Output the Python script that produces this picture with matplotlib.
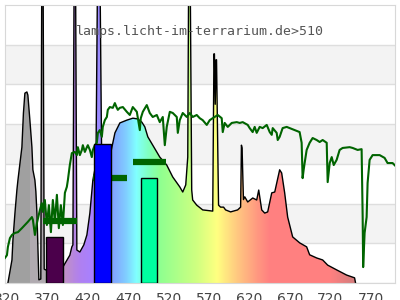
import numpy as np
import matplotlib.pyplot as plt
from matplotlib.colors import to_rgb
from matplotlib.patches import Polygon

# lamp spectrum, wavelength in nm and relative intensity
lamp_nm = [321.1, 326.1, 327.3, 329.8, 332.2, 333.5, 338.4, 340.3, 342.1, 344.6,
           345.8, 348.3, 350.8, 352.0, 354.5, 355.7, 357.0, 358.2, 359.4, 361.8,
           363.2, 364.4, 366.0, 367.5, 372.0, 378.0, 384.0, 389.1, 392.8, 397.7,
           400.2, 401.5, 403.3, 404.5, 406.4, 410.1, 415.0, 418.8, 422.5, 426.2,
           430.0, 432.5, 434.5, 437.0, 442.0, 447.2, 453.5, 459.6, 468.2, 475.7,
           481.8, 486.8, 490.5, 494.2, 500.3, 509.0, 517.6, 525.0, 533.7, 537.4,
           541.1, 543.6, 545.0, 546.2, 548.5, 549.7, 554.7, 562.1, 574.5, 576.0,
           576.6, 577.6, 578.6, 579.2, 581.7, 584.2, 587.9, 590.4, 596.6, 605.3,
           609.0, 610.0, 610.8, 612.5, 614.1, 617.8, 624.0, 628.9, 631.4, 635.1,
           638.8, 642.5, 647.5, 651.2, 657.3, 659.8, 663.5, 667.2, 673.4, 682.1,
           690.7, 694.4, 703.1, 710.5, 716.7, 727.8, 740.1, 750.0, 751.2]
lamp_val = [0, 58, 108, 176, 234, 259, 342, 428, 478, 481,
            473, 410, 342, 285, 259, 230, 176, 91, 8, 10,
            900, 900, 35, 33, 35, 36, 38, 40, 53, 70,
            91, 96, 900, 900, 83, 78, 96, 121, 176, 259,
            300, 900, 900, 330, 320, 317, 378, 403, 410, 415,
            413, 405, 393, 368, 347, 317, 297, 267, 242, 229,
            247, 317, 900, 900, 234, 209, 196, 184, 181, 577,
            577, 450, 562, 562, 196, 191, 191, 184, 179, 184,
            191, 347, 340, 210, 217, 204, 214, 209, 234, 184,
            176, 179, 227, 229, 285, 277, 227, 166, 116, 101,
            91, 71, 63, 58, 45, 33, 20, 13, 0]

# daylight reference
sun_nm = [317.4, 319.9, 321.1, 323.6, 326.1, 329.8, 333.5, 338.4, 342.1, 345.8,
          350.8, 352.0, 354.5, 357.0, 360.7, 363.1, 364.4, 366.8, 369.3, 371.8,
          374.3, 376.7, 379.2, 381.7, 384.1, 386.6, 389.1, 391.6, 394.0, 395.3,
          397.7, 400.2, 403.9, 406.4, 407.6, 410.1, 412.6, 413.8, 416.3, 418.8,
          420.0, 422.5, 424.9, 426.2, 428.7, 431.1, 432.4, 434.8, 437.3, 438.5,
          441.0, 443.5, 444.7, 447.2, 450.9, 453.4, 455.8, 457.1, 459.5, 463.3,
          468.2, 471.9, 475.6, 480.6, 484.3, 485.5, 488.0, 492.9, 496.6, 500.3,
          505.3, 509.0, 512.7, 515.2, 517.6, 521.4, 525.1, 530.0, 531.3, 533.7,
          537.4, 542.4, 546.1, 549.8, 554.7, 558.4, 562.1, 567.1, 570.8, 574.5,
          580.7, 585.6, 586.9, 589.3, 593.1, 598.0, 604.2, 607.9, 611.6, 617.8,
          620.2, 623.9, 626.4, 628.9, 632.6, 636.3, 641.3, 645.0, 647.5, 648.7,
          653.6, 654.9, 657.3, 661.0, 666.0, 669.7, 675.8, 682.0, 684.5, 685.7,
          687.0, 688.2, 690.7, 694.4, 698.1, 703.1, 706.8, 710.5, 715.5, 716.7,
          719.2, 721.7, 724.2, 727.8, 731.5, 735.2, 743.9, 747.6, 753.8, 758.7,
          760.0, 760.6, 762.4, 764.9, 766.1, 768.6, 772.3, 781.0, 787.1, 790.8,
          797.0, 801.9]
sun_val = [63, 70, 91, 113, 121, 126, 128, 138, 146, 154,
           166, 159, 121, 151, 184, 201, 179, 209, 146, 196,
           128, 209, 154, 222, 138, 196, 146, 227, 242, 259,
           297, 327, 330, 322, 342, 322, 335, 347, 330, 342,
           347, 335, 317, 335, 347, 353, 378, 385, 368, 393,
           410, 418, 436, 443, 441, 453, 441, 436, 441, 443,
           431, 423, 443, 431, 385, 415, 431, 448, 428, 418,
           423, 405, 418, 347, 393, 431, 428, 418, 378, 410,
           428, 418, 428, 418, 423, 415, 410, 398, 410, 415,
           423, 415, 380, 403, 393, 403, 405, 403, 405, 398,
           390, 380, 393, 378, 393, 390, 398, 380, 373, 390,
           378, 360, 368, 390, 393, 390, 385, 380, 353, 264,
           285, 302, 335, 353, 365, 360, 355, 360, 353, 254,
           302, 317, 297, 310, 335, 340, 342, 340, 335, 337,
           166, 40, 126, 166, 252, 310, 322, 322, 315, 302,
           302, 292]

# LED bars
bar_nm = [378.4, 438.1, 495.8]
bar_val = [115, 350, 264]
bar_colors = ['#4b004b', '#0000ff', '#00ffa0']

# green level marks
seg_from = [364.9, 426.3, 475.3]
seg_to = [407.0, 468.3, 516.4]
seg_val = [155, 265, 305]

# fill colour by wavelength
color_nm = [300, 348, 348.5, 383, 392, 410, 425, 450, 468, 480,
            495, 510, 555, 580, 605, 630, 645, 720, 752, 800]
color_hex = ['#a0a0a0', '#a0a0a0', '#b0aab0', '#b0aab0', '#c090c8', '#b080f0',
             '#a880ff', '#80a0ff', '#80d0ff', '#80ffff', '#80ffc0', '#90ff90',
             '#d0ff80', '#ffff80', '#ffc880', '#ff9880', '#ff8080', '#ff8080',
             '#d07c7c', '#d07c7c']

xticks = [320, 370, 420, 470, 520, 570, 620, 670, 720, 770]
title = 'lamps.licht-im-terrarium.de>510'

xmin, xmax = 317.5, 800
ymax = 700

fig = plt.figure(figsize=(4, 3), dpi=100)
ax = fig.add_axes([0.0125, 0.0567, 0.975, 0.9267])

for i in range(7):
    if i % 2 == 1:
        ax.axhspan(i * 100, (i + 1) * 100, color='#f3f3f3', zorder=0, lw=0)
    ax.axhline(i * 100, color='#dedede', lw=1, zorder=0.5)

# gradient under the lamp curve
wl = np.linspace(xmin, xmax, 1500)
rgb = np.array([to_rgb(c) for c in color_hex])
img = np.stack([np.interp(wl, color_nm, rgb[:, k]) for k in range(3)], axis=-1)
img = img[np.newaxis, :, :]
im = ax.imshow(img, extent=(xmin, xmax, 0, 1000), aspect='auto',
               interpolation='nearest', zorder=1)
verts = [(lamp_nm[0], 0)] + list(zip(lamp_nm, lamp_val)) + [(lamp_nm[-1], 0)]
shape = Polygon(verts, closed=True, facecolor='none', edgecolor='none')
ax.add_patch(shape)
im.set_clip_path(shape)
ax.plot(lamp_nm, lamp_val, color='black', lw=1.0, zorder=2)

ax.plot(sun_nm, sun_val, color='#006400', lw=1.5, zorder=3)
ax.hlines(seg_val, seg_from, seg_to, colors='#006400', linewidth=4.5, zorder=4)
ax.bar(bar_nm, bar_val, width=20.6, color=bar_colors, edgecolor='black',
       linewidth=1, zorder=5)

ax.text(0.501, 0.903, title, transform=ax.transAxes, ha='center', va='center',
        family='DejaVu Sans Mono', fontsize=9.5, color='#555555', zorder=6)

ax.set_xlim(xmin, xmax)
ax.set_ylim(0, ymax)
ax.set_xticks(xticks)
ax.set_yticks([])
ax.tick_params(axis='x', length=0, pad=6.5, labelsize=10, labelcolor='#444444')
for s in ax.spines.values():
    s.set_color('#d8d8d8')

fig.savefig('out.png', dpi=100)
